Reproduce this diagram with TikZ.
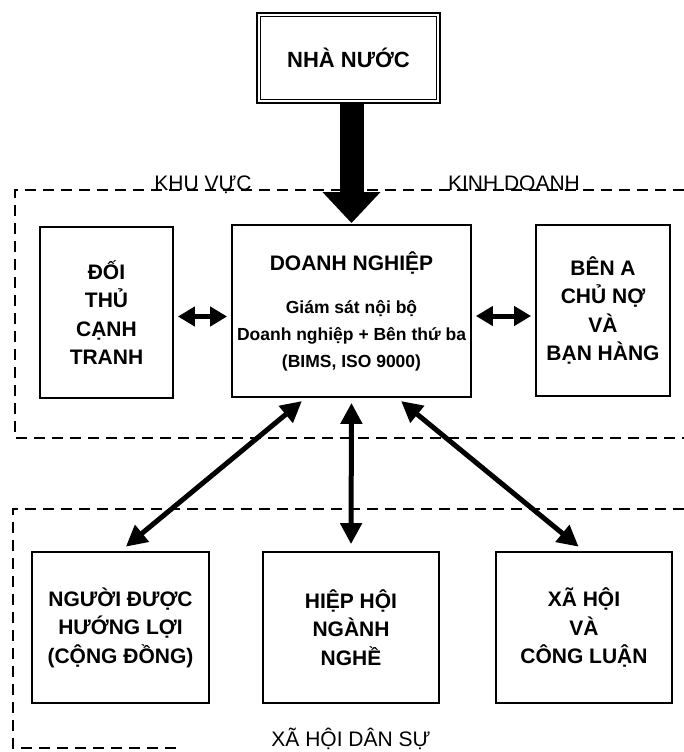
\documentclass[tikz,border=0pt]{standalone}
\usepackage{fontspec}
\setmainfont{Liberation Sans}
\usetikzlibrary{arrows.meta,calc}
\begin{document}
\begin{tikzpicture}[x=1pt,y=-1pt,
  box/.style={draw,line width=1.8pt,align=center,inner sep=0pt,
    font=\bfseries\fontsize{21}{28.5}\selectfont},
  region/.style={line width=1.5pt,dash pattern=on 11pt off 7pt},
  zonelabel/.style={anchor=base,inner sep=0pt,font=\fontsize{21}{25}\selectfont},
  bigarrow/.style={line width=24pt,-{Triangle[length=31pt,width=56pt]},shorten >=1pt},
  sidearrow/.style={line width=5pt,
    {Triangle[length=17pt,width=19pt]}-{Triangle[length=17pt,width=19pt]},
    shorten <=4pt,shorten >=4pt},
  linkarrow/.style={line width=5pt,
    {Triangle[length=21pt,width=21pt]}-{Triangle[length=21pt,width=21pt]},
    shorten <=5pt,shorten >=7pt}
]
\useasboundingbox[fill=white] (0,0) rectangle (684,752);

% dashed zones: business sector and civil society
\draw[region] (684,190) -- (15,190) -- (15,438) -- (684,438);
\draw[region] (684,509) -- (13,509) -- (13,748) -- (177,748);
\node[zonelabel] (kv) at (203,190) {KHU VỰC};
\node[zonelabel] (kd) at (514,190) {KINH DOANH};
\node[zonelabel] (xhds) at (351,746) {XÃ HỘI DÂN SỰ};

% state
\node[box,line width=2.4pt,minimum width=183pt,minimum height=90pt,
  font=\bfseries\fontsize{22}{26}\selectfont] (nn) at (348.5,58) {NHÀ NƯỚC};
\draw[line width=1.1pt] ([shift={(5,5)}]nn.north west) rectangle ([shift={(-5,-5)}]nn.south east);

% business sector
\node[box,minimum width=133pt,minimum height=171pt] (dt) at (106.5,312.5)
  {ĐỐI\\THỦ\\CẠNH\\TRANH};
\node[box,minimum width=239pt,minimum height=172pt,
  font=\bfseries\fontsize{17.5}{27}\selectfont] (dn) at (351.5,311)
  {{\fontsize{21}{27}\selectfont DOANH NGHIỆP}\\[16pt]Giám sát nội bộ\\Doanh nghiệp + Bên thứ ba\\(BIMS, ISO 9000)};
\node[box,minimum width=134pt,minimum height=171pt] (bn) at (603,310.5)
  {BÊN A\\CHỦ NỢ\\VÀ\\BẠN HÀNG};

% civil society
\node[box,minimum width=177pt,minimum height=151pt] (pl) at (120.5,627.5)
  {NGƯỜI ĐƯỢC\\HƯỚNG LỢI\\(CỘNG ĐỒNG)};
\node[box,minimum width=176pt,minimum height=151pt] (hh) at (351,627.5)
  {HIỆP HỘI\\NGÀNH\\NGHỀ};
\node[box,minimum width=176pt,minimum height=151pt] (xh) at (584,627.5)
  {XÃ HỘI\\VÀ\\CÔNG LUẬN};

% connectors
\draw[bigarrow] (nn.south -| dn.north) -- (dn.north);
\draw[sidearrow] ([yshift=-4pt]dt.east) -- ([yshift=-4pt]dt.east -| dn.west);
\draw[sidearrow] ([yshift=-5.5pt]bn.west -| dn.east) -- ([yshift=-5.5pt]bn.west);
\draw[linkarrow] ($(dn.south west)!0.31!(dn.south east)$) -- (pl.north);
\draw[linkarrow] (dn.south) -- (hh.north);
\draw[linkarrow] ($(dn.south west)!0.69!(dn.south east)$) -- (xh.north);
\end{tikzpicture}
\end{document}
